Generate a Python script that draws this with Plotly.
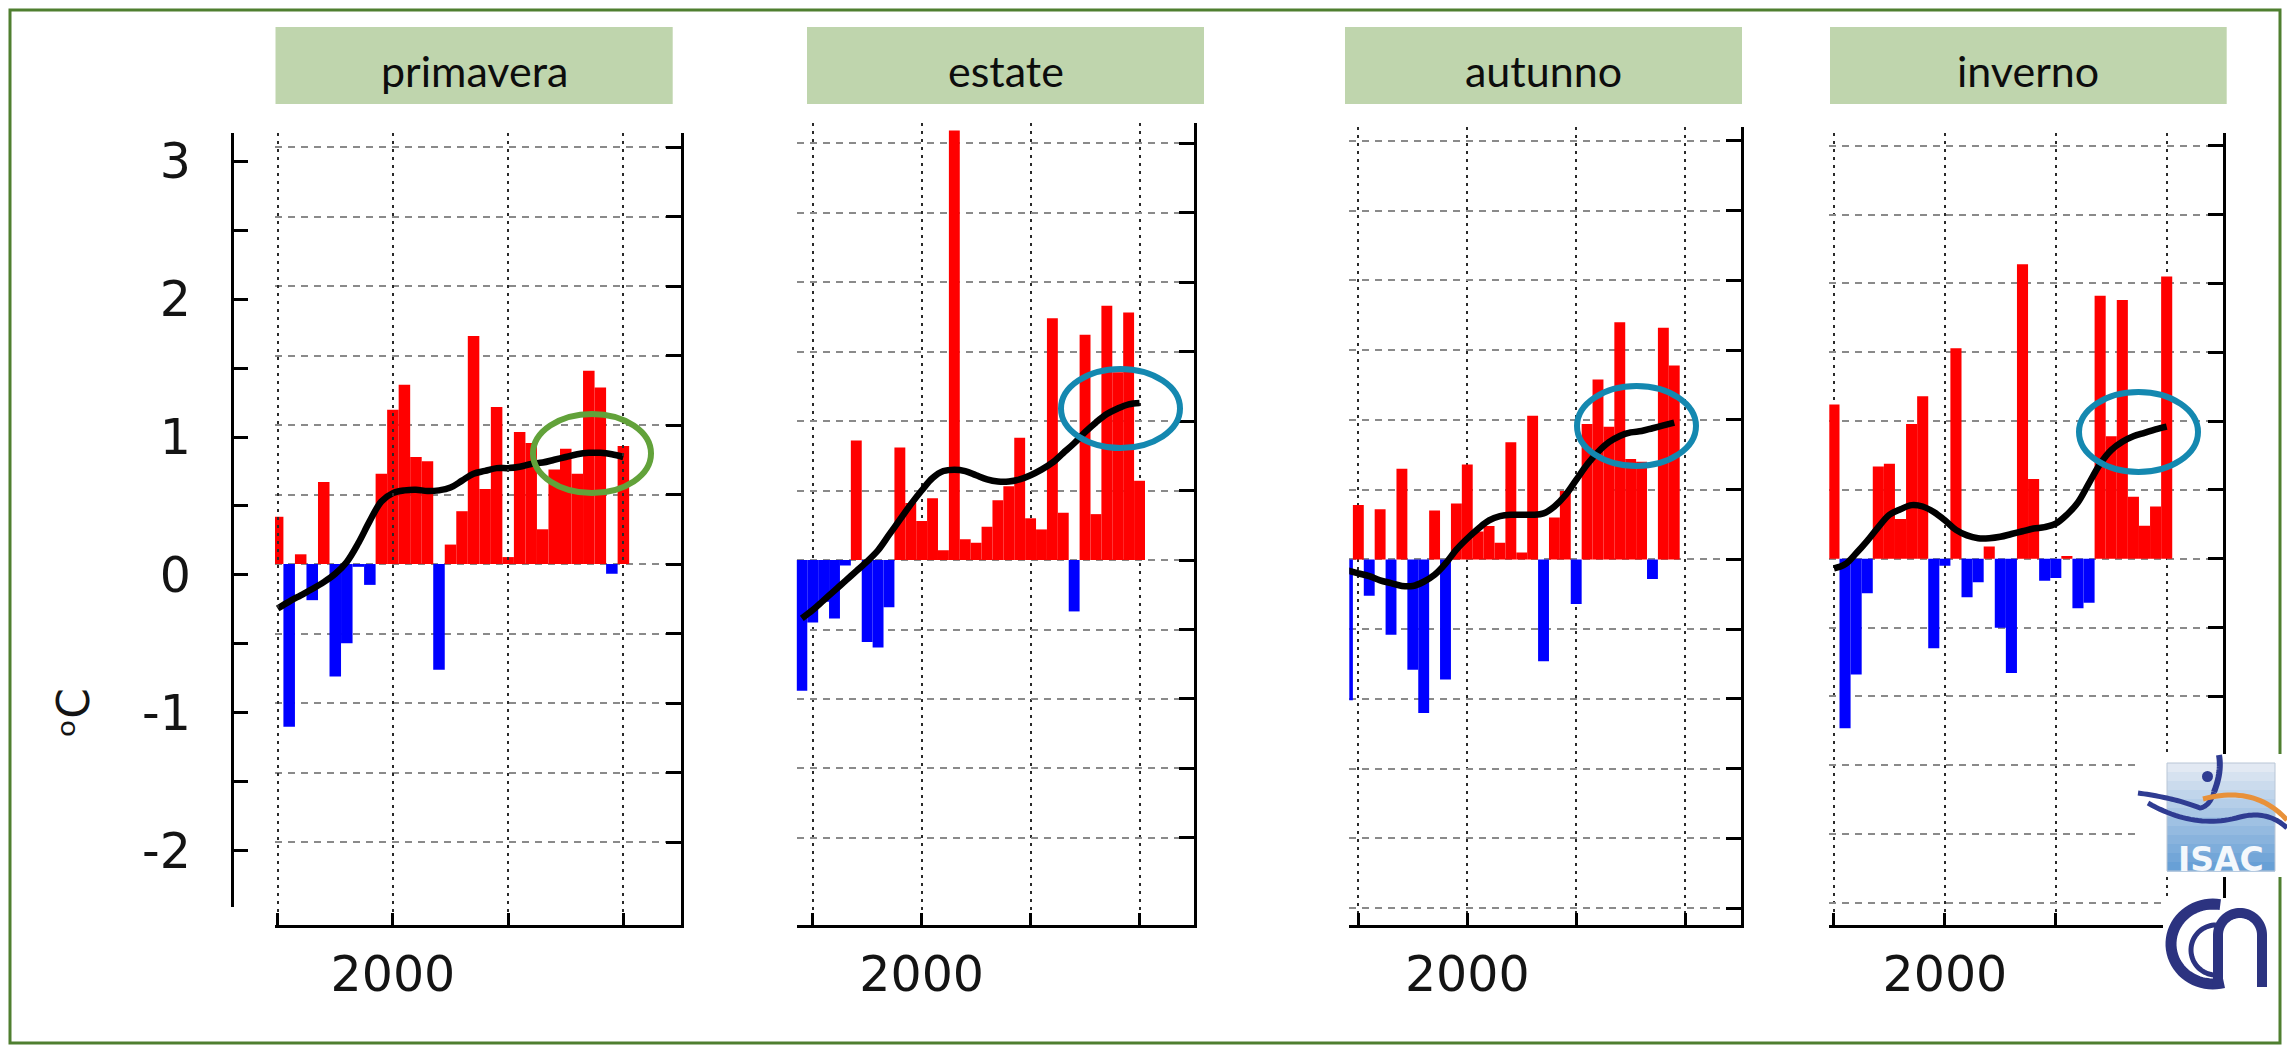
import math
import plotly.graph_objects as go

W, H = 2287, 1045

# ---------------- data ----------------
seasons = ["primavera", "estate", "autunno", "inverno"]

years_spring = list(range(1990, 2021))
spring = [0.34, -1.17, 0.07, -0.26, 0.59, -0.81, -0.57, -0.02, -0.15, 0.65,
          1.11, 1.29, 0.77, 0.74, -0.76, 0.14, 0.38, 1.64, 0.54, 1.13,
          0.05, 0.95, 0.87, 0.25, 0.68, 0.83, 0.65, 1.39, 1.27, -0.07, 0.85]
spring_trend = [-0.32, -0.27, -0.225, -0.18, -0.13, -0.07, 0.015, 0.15, 0.31, 0.45,
                0.51, 0.53, 0.535, 0.525, 0.53, 0.55, 0.60, 0.65, 0.67, 0.69,
                0.69, 0.70, 0.72, 0.73, 0.75, 0.77, 0.79, 0.80, 0.80, 0.79, 0.77]

years_summer = list(range(1989, 2021))
summer = [-0.94, -0.45, -0.30, -0.42, -0.04, 0.86, -0.59, -0.63, -0.34, 0.81,
          0.41, 0.28, 0.445, 0.07, 3.09, 0.15, 0.125, 0.24, 0.43, 0.53,
          0.88, 0.30, 0.22, 1.74, 0.34, -0.37, 1.62, 0.33, 1.83, 1.35, 1.78, 0.57]
summer_trend = [-0.42, -0.36, -0.29, -0.22, -0.15, -0.08, -0.01, 0.07, 0.18, 0.29,
                0.40, 0.50, 0.59, 0.64, 0.65, 0.64, 0.61, 0.58, 0.565, 0.565,
                0.58, 0.61, 0.65, 0.70, 0.77, 0.84, 0.92, 0.99, 1.05, 1.09, 1.12, 1.13]

years_autumn = list(range(1989, 2020))
autumn = [-1.01, 0.39, -0.26, 0.36, -0.54, 0.65, -0.79, -1.10, 0.35, -0.86,
          0.40, 0.68, 0.20, 0.24, 0.12, 0.84, 0.05, 1.03, -0.73, 0.30,
          0.49, -0.32, 0.97, 1.29, 0.95, 1.70, 0.72, 0.70, -0.14, 1.66, 1.39]
autumn_trend = [-0.08, -0.10, -0.12, -0.15, -0.17, -0.19, -0.19, -0.16, -0.11, -0.03,
                0.07, 0.15, 0.22, 0.28, 0.31, 0.32, 0.32, 0.32, 0.33, 0.38,
                0.46, 0.57, 0.68, 0.77, 0.84, 0.885, 0.91, 0.92, 0.94, 0.96, 0.98]

years_winter = list(range(1990, 2021))
winter = [1.12, -1.23, -0.84, -0.25, 0.67, 0.69, 0.29, 0.98, 1.18, -0.65,
          -0.05, 1.53, -0.28, -0.17, 0.09, -0.50, -0.83, 2.14, 0.58, -0.16,
          -0.14, 0.02, -0.36, -0.32, 1.91, 0.89, 1.88, 0.45, 0.24, 0.38, 2.05]
winter_trend = [-0.07, -0.04, 0.04, 0.13, 0.23, 0.32, 0.36, 0.39, 0.38, 0.34,
                0.28, 0.21, 0.17, 0.15, 0.15, 0.16, 0.18, 0.20, 0.22, 0.23,
                0.255, 0.32, 0.41, 0.55, 0.69, 0.79, 0.85, 0.89, 0.915, 0.94, 0.96]

x_label_vals = [2000]
x_label_text = ["2000"]
x_minor_vals = [1990, 2010, 2020]
y_label_vals = [-2, -1, 0, 1, 2, 3]
y_label_text = ["-2", "-1", "0", "1", "2", "3"]
y_minor_vals = [-1.5, -0.5, 0.5, 1.5, 2.5]
unit_label = "\u1d52C"

series = [
    (years_spring, spring, years_spring, spring_trend),
    (years_summer, summer, years_summer, summer_trend),
    (years_autumn, autumn, years_autumn, autumn_trend),
    (years_winter, winter, years_winter, winter_trend),
]

# ---------------- layout geometry (pixels) ----------------
PANEL_BOX = [(275, 681, 133, 925), (796.7, 1194, 123, 925),
             (1349.3, 1740.7, 127, 925), (1829.3, 2222.7, 133, 925)]
X_RANGE = [(1989.77, 2025.0), (1988.53, 2025.0), (1989.17, 2025.1), (1989.58, 2025.05)]
Y_RANGE = [(-2.597, 3.101), (-2.626, 3.144), (-2.62, 3.099), (-2.66, 3.093)]
GRID_LOW = [-2.0, -2.0, -2.5, -2.5]
HEADER_X = [(275.5, 672.7), (807, 1204), (1345, 1742), (1830, 2226.7)]
HEADER_Y = (27, 104)
GREEN_RING = "#62A23A"
TEAL_RING = "#1488B0"
ELLIPSES = [(533, 414, 651, 493, GREEN_RING), (1061, 369, 1180, 448, TEAL_RING),
            (1577, 386, 1696, 466, TEAL_RING), (2079, 392, 2198, 472, TEAL_RING)]
RED, BLUE = "#FF0000", "#0000FF"
AX_FONT = dict(family="DejaVu Sans", size=49, color="#141414")
VGRID = dict(gridcolor="#2a2a2a", griddash="3px,5px", gridwidth=2.2)
HGRID = dict(gridcolor="#8a8a8a", griddash="7px,6px", gridwidth=1.5)


def px(x):
    return x / W


def py(y):
    return 1 - y / H


fig = go.Figure()
layout = dict(width=W, height=H, margin=dict(l=0, r=0, t=0, b=0),
              paper_bgcolor="white", plot_bgcolor="rgba(0,0,0,0)",
              showlegend=False, barmode="overlay")

for i, (yrs, vals, tyrs, trend) in enumerate(series):
    n = "" if i == 0 else str(i + 1)
    xa, ya = "x" + n, "y" + n
    fig.add_trace(go.Bar(x=yrs, y=vals, width=1.0,
                         marker=dict(color=[RED if v >= 0 else BLUE for v in vals],
                                     line=dict(width=0)),
                         xaxis=xa, yaxis=ya, hoverinfo="skip"))
    fig.add_trace(go.Scatter(x=tyrs, y=trend, mode="lines",
                             line=dict(color="black", width=6.5, shape="spline", smoothing=1.0),
                             xaxis=xa, yaxis=ya, hoverinfo="skip"))
    L, R, T, B = PANEL_BOX[i]
    grid_vals = [GRID_LOW[i] + 0.5 * k for k in range(int((3 - GRID_LOW[i]) / 0.5) + 1)]
    layout["xaxis" + n] = dict(
        domain=[px(L), px(R)], range=list(X_RANGE[i]), anchor=ya,
        showline=True, linecolor="black", linewidth=3,
        ticks="inside", ticklen=12, tickwidth=2.5, tickcolor="black",
        tickmode="array", tickvals=x_label_vals, ticktext=x_label_text,
        tickfont=AX_FONT, ticklabelstandoff=4,
        showgrid=True, **VGRID,
        minor=dict(tickmode="array", tickvals=x_minor_vals, ticks="inside", ticklen=12,
                   tickwidth=2.5, tickcolor="black", showgrid=True, **VGRID),
        zeroline=False, fixedrange=True)
    layout["yaxis" + n] = dict(
        domain=[py(B), py(T)], range=list(Y_RANGE[i]), anchor=xa, side="right",
        showline=True, linecolor="black", linewidth=3,
        ticks="inside", ticklen=15, tickwidth=2.5, tickcolor="black",
        tickmode="array", tickvals=grid_vals, showticklabels=False,
        showgrid=True, **HGRID,
        zeroline=False, fixedrange=True)

# separate value axis with labels on the far left
fig.add_trace(go.Scatter(x=[2000], y=[0], mode="markers", marker=dict(opacity=0),
                         xaxis="x", yaxis="y5", hoverinfo="skip"))
layout["yaxis5"] = dict(
    domain=[py(907), py(133)], range=[-2.406, 3.203], anchor="free", position=px(231.7),
    side="left", showline=True, linecolor="black", linewidth=3,
    ticks="inside", ticklen=14, tickwidth=2.5, tickcolor="black",
    tickmode="array", tickvals=y_label_vals, ticktext=y_label_text,
    tickfont=AX_FONT, ticklabelstandoff=30,
    minor=dict(tickmode="array", tickvals=y_minor_vals, ticks="inside", ticklen=14,
               tickwidth=2.5, tickcolor="black", showgrid=False),
    showgrid=False, zeroline=False, fixedrange=True)

shapes = []
annotations = []

# outer frame
shapes.append(dict(type="rect", xref="paper", yref="paper",
                   x0=px(10), x1=px(2280), y0=py(1043), y1=py(10),
                   line=dict(color="#4F7F30", width=3), fillcolor="rgba(0,0,0,0)"))

# season headers
for i, name in enumerate(seasons):
    x0, x1 = HEADER_X[i]
    shapes.append(dict(type="rect", xref="paper", yref="paper",
                       x0=px(x0), x1=px(x1), y0=py(HEADER_Y[1]), y1=py(HEADER_Y[0]),
                       line=dict(width=0), fillcolor="#BFD5AD", layer="below"))
    annotations.append(dict(xref="paper", yref="paper", x=px((x0 + x1) / 2),
                            y=py(70), text=name, showarrow=False,
                            xanchor="center", yanchor="middle",
                            font=dict(family="Lato", size=43, color="#0d0d0d")))

# highlight rings
for (x0, y0, x1, y1, col) in ELLIPSES:
    shapes.append(dict(type="circle", xref="paper", yref="paper",
                       x0=px(x0), x1=px(x1), y0=py(y1), y1=py(y0),
                       line=dict(color=col, width=6), layer="above"))

# unit label
annotations.append(dict(xref="paper", yref="paper", x=px(73), y=py(713),
                        text=unit_label, textangle=-90, showarrow=False,
                        xanchor="center", yanchor="middle",
                        font=dict(family="DejaVu Sans", size=44, color="#141414")))


# ---------------- logos (decoration) ----------------
def path_from(points):
    return "M " + " L ".join(f"{px(a):.6f},{py(b):.6f}" for a, b in points)


def qcurve(p0, c, p1, steps=24):
    pts = []
    for k in range(steps + 1):
        t = k / steps
        x = (1 - t) ** 2 * p0[0] + 2 * (1 - t) * t * c[0] + t ** 2 * p1[0]
        y = (1 - t) ** 2 * p0[1] + 2 * (1 - t) * t * c[1] + t ** 2 * p1[1]
        pts.append((x, y))
    return pts


def arc(cx, cy, rx, ry, a0, a1, steps=40):
    return [(cx + rx * math.cos(math.radians(a0 + (a1 - a0) * k / steps)),
             cy - ry * math.sin(math.radians(a0 + (a1 - a0) * k / steps)))
            for k in range(steps + 1)]


# ISAC logo
shapes.append(dict(type="rect", xref="paper", yref="paper", x0=px(2137), x1=px(2287),
                   y0=py(877), y1=py(754), line=dict(width=0), fillcolor="white", layer="above"))
bands = 12
top_c, bot_c = (226, 233, 243), (104, 160, 214)
for k in range(bands):
    t = k / (bands - 1)
    c = tuple(int(top_c[j] + (bot_c[j] - top_c[j]) * t) for j in range(3))
    ya0 = 763 + (871 - 763) * k / bands
    ya1 = 763 + (871 - 763) * (k + 1) / bands
    shapes.append(dict(type="rect", xref="paper", yref="paper", x0=px(2167), x1=px(2275),
                       y0=py(ya1 + 0.5), y1=py(ya0), line=dict(width=0),
                       fillcolor=f"rgb{c}", layer="above"))
shapes.append(dict(type="rect", xref="paper", yref="paper", x0=px(2167), x1=px(2275),
                   y0=py(871), y1=py(763), line=dict(color="#b9c6d6", width=1),
                   fillcolor="rgba(0,0,0,0)", layer="above"))
NAVY = "#2F3C92"
shapes.append(dict(type="path", xref="paper", yref="paper",
                   path=path_from(qcurve((2138, 793), (2175, 798), (2200, 808)) +
                                  qcurve((2200, 808), (2210, 806), (2214, 792))),
                   line=dict(color=NAVY, width=5), layer="above"))
shapes.append(dict(type="path", xref="paper", yref="paper",
                   path=path_from(qcurve((2214, 792), (2222, 772), (2219, 755))),
                   line=dict(color=NAVY, width=6), layer="above"))
shapes.append(dict(type="circle", xref="paper", yref="paper", x0=px(2202), x1=px(2213),
                   y0=py(782), y1=py(771), fillcolor=NAVY, line=dict(width=0), layer="above"))
shapes.append(dict(type="path", xref="paper", yref="paper",
                   path=path_from(qcurve((2203, 799), (2255, 785), (2287, 820))),
                   line=dict(color="#E8913A", width=5), layer="above"))
shapes.append(dict(type="path", xref="paper", yref="paper",
                   path=path_from(qcurve((2148, 803), (2195, 830), (2240, 817)) +
                                  qcurve((2240, 817), (2268, 810), (2287, 828))),
                   line=dict(color=NAVY, width=5), layer="above"))
annotations.append(dict(xref="paper", yref="paper", x=px(2221), y=py(859), text="ISAC",
                        showarrow=False, xanchor="center", yanchor="middle",
                        font=dict(family="DejaVu Sans", size=33, color="#f4f8fc",
                                  weight="bold")))

# CNR logo
shapes.append(dict(type="rect", xref="paper", yref="paper", x0=px(2163), x1=px(2268),
                   y0=py(990), y1=py(898), line=dict(width=0), fillcolor="white", layer="above"))
CNR = "#2C3380"
shapes.append(dict(type="path", xref="paper", yref="paper",
                   path=path_from(arc(2213, 944, 42, 40, 80, 285)),
                   line=dict(color=CNR, width=11), layer="above"))
shapes.append(dict(type="path", xref="paper", yref="paper",
                   path=path_from(arc(2216, 950, 25, 25, 90, 275)),
                   line=dict(color=CNR, width=5), layer="above"))
shapes.append(dict(type="path", xref="paper", yref="paper",
                   path=path_from([(2218, 987), (2218, 935)] + arc(2240, 935, 22, 22, 180, 0)[1:] +
                                  [(2262, 987)]),
                   line=dict(color=CNR, width=10), layer="above"))

layout["shapes"] = shapes
layout["annotations"] = annotations
fig.update_layout(**layout)
fig.write_html("out.html")
